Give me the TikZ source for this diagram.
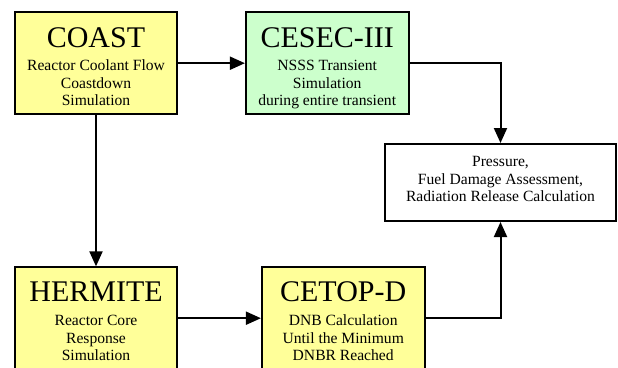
\documentclass[tikz,border=0pt]{standalone}
\usepackage{fontspec}
\setmainfont{Liberation Serif}
\usetikzlibrary{arrows.meta}
\definecolor{boxyellow}{RGB}{255,255,153}
\definecolor{boxgreen}{RGB}{204,255,204}
\begin{document}
\begin{tikzpicture}[x=1pt,y=-1pt,
  box/.style={draw=black, line width=2pt, minimum width=162.6pt, minimum height=101.7pt, inner sep=0pt},
  ttl/.style={font=\fontsize{30}{36}\selectfont, inner sep=0pt, anchor=base},
  sub/.style={font=\fontsize{15.6}{17.7}\selectfont, inner sep=0pt, align=center, anchor=base},
  link/.style={line width=2pt, -{Triangle[length=15pt,width=13pt]}}]
\useasboundingbox (0,0) rectangle (618,367);
\clip (0,0) rectangle (618,367);
% boxes
\node[box, fill=boxyellow] (coast) at (96,63.2) {};
\node[box, fill=boxgreen] (cesec) at (327.2,63.2) {};
\node[box, fill=boxyellow] (hermite) at (96,318.2) {};
\node[box, fill=boxyellow] (cetop) at (343.2,318.2) {};
\node[draw=black, line width=2pt, fill=white, minimum width=231pt, minimum height=77pt, inner sep=0pt] (result) at (500.5,182.5) {};
% texts (sub-text nodes are anchored at the baseline of their last line)
\node[ttl] (coastT) at (96,47.7) {COAST};
\node[sub] (coastS) at (96,105.7) {Reactor Coolant Flow\\Coastdown\\Simulation};
\node[ttl] (cesecT) at (327.2,47.7) {CESEC-III};
\node[sub] (cesecS) at (327.2,105.7) {NSSS Transient\\Simulation\\during entire transient};
\node[ttl] (hermiteT) at (96,301.7) {HERMITE};
\node[sub] (hermiteS) at (96,360.7) {Reactor Core\\Response\\Simulation};
\node[ttl] (cetopT) at (343.2,301.7) {CETOP-D};
\node[sub] (cetopS) at (343.2,360.7) {DNB Calculation\\Until the Minimum\\DNBR Reached};
\node[sub] (resultS) at (500.5,201.7) {Pressure,\\Fuel Damage Assessment,\\Radiation Release Calculation};
% connectors
\draw[link] (coast) -- (cesec);
\draw[link] (coast) -- (hermite);
\draw[link] (hermite) -- (cetop);
\draw[link] (cesec.east) -| (result.north);
\draw[link] (cetop.east) -| (result.south);
\end{tikzpicture}
\end{document}
